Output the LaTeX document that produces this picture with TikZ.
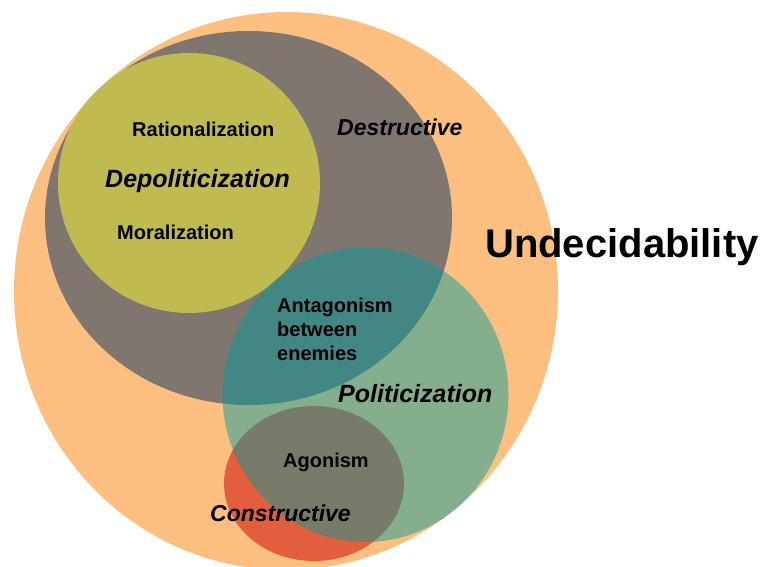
\documentclass[tikz,border=0pt]{standalone}
\usepackage{fontspec}
\setmainfont{Liberation Sans}
\definecolor{undecblk}{HTML}{FDBF80}
\definecolor{destrblk}{HTML}{807670}
\definecolor{depolblk}{HTML}{C0BB50}
\definecolor{constrblk}{HTML}{E25F3D}
\definecolor{polblk}{HTML}{009B9B}
\tikzset{
  term/.style    = {inner sep=0pt,anchor=base west,align=left,
                     font=\bfseries\fontsize{20}{24}\selectfont},
  field/.style   = {term,font=\bfseries\itshape\fontsize{25}{30}\selectfont},
  pole/.style    = {term,font=\bfseries\itshape\fontsize{23}{28}\selectfont},
  whole/.style   = {term,font=\bfseries\fontsize{40}{48}\selectfont},
  polfill/.style = {fill=polblk,fill opacity=0.47},
}
\begin{document}
\begin{tikzpicture}[x=1pt,y=-1pt]
  \useasboundingbox (0,0) rectangle (763,567);

  % Nested fields, back to front
  \fill[undecblk,rotate around={-2:(286,291)}]
       (286,291) ellipse [x radius=272pt,y radius=279pt];
  \fill[destrblk]  (248.5,218) ellipse [x radius=203.5pt,y radius=187pt];
  \fill[depolblk]  (189,183) ellipse [x radius=131pt,y radius=130pt];
  \fill[constrblk] (314,483.5) ellipse [x radius=90pt,y radius=77.5pt];
  \fill[polfill]   (365.5,394.5) ellipse [x radius=143pt,y radius=147.5pt];

  % Labels
  \node[term]  (rat)    at (132,137) {Rationalization};
  \node[field] (depol)  at (105,187) {Depoliticization};
  \node[term]  (moral)  at (117,239) {Moralization};
  \node[pole]  (destr)  at (337,136) {Destructive};
  \node[whole] (undec)  at (485,257) {Undecidability};
  \node[term]  (antag)  at (277,360) {Antagonism\\between\\enemies};
  \node[field] (pol)    at (338,402) {Politicization};
  \node[term]  (agon)   at (283,467) {Agonism};
  \node[pole]  (constr) at (210,521) {Constructive};
\end{tikzpicture}
\end{document}
